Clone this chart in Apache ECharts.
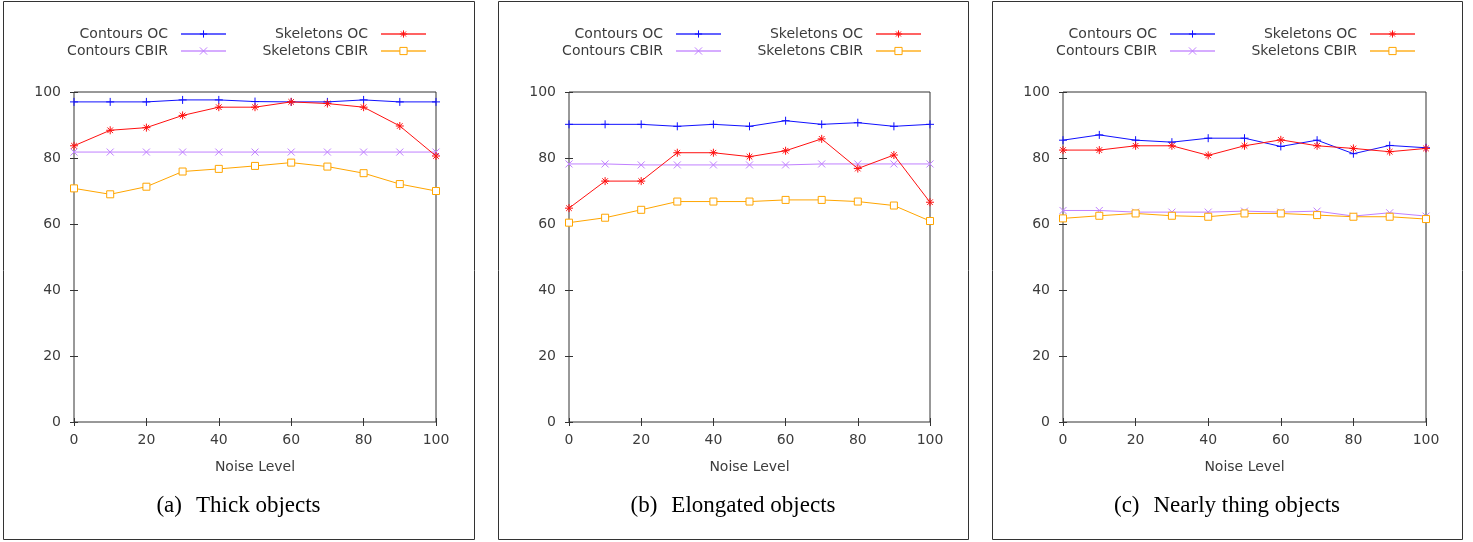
<!DOCTYPE html>
<html>
<head>
<meta charset="utf-8">
<script src="https://cdn.jsdelivr.net/npm/echarts@6/dist/echarts.min.js"></script>
<style>
html,body{margin:0;padding:0;background:#fff;}
#main{width:1473px;height:542px;}
</style>
</head>
<body>
<div id="main"></div>
<script>
// ---- data ----
const noiseLevels = [0, 10, 20, 30, 40, 50, 60, 70, 80, 90, 100];
const seriesNames = ['Contours OC', 'Contours CBIR', 'Skeletons OC', 'Skeletons CBIR'];
const xTicks = [0, 20, 40, 60, 80, 100];
const yTicks = [0, 20, 40, 60, 80, 100];
const captionTags = ['(a)', '(b)', '(c)'];
const captionTexts = ['Thick objects', 'Elongated objects', 'Nearly thing objects'];

// panel (a) Thick objects
const thickContoursOC    = [97.0, 97.0, 97.0, 97.6, 97.6, 97.1, 97.0, 97.0, 97.6, 97.0, 97.0];
const thickContoursCBIR  = [81.8, 81.8, 81.8, 81.8, 81.8, 81.8, 81.8, 81.8, 81.8, 81.8, 81.8];
const thickSkeletonsOC   = [83.7, 88.4, 89.2, 92.9, 95.4, 95.4, 97.0, 96.5, 95.4, 89.7, 80.6];
const thickSkeletonsCBIR = [70.8, 69.0, 71.3, 75.9, 76.7, 77.6, 78.6, 77.4, 75.4, 72.1, 70.0];

// panel (b) Elongated objects
const elongContoursOC    = [90.2, 90.2, 90.2, 89.6, 90.2, 89.6, 91.3, 90.2, 90.7, 89.6, 90.2];
const elongContoursCBIR  = [78.2, 78.2, 77.9, 77.9, 77.9, 77.9, 77.9, 78.2, 78.2, 78.2, 78.2];
const elongSkeletonsOC   = [64.8, 73.0, 73.0, 81.6, 81.6, 80.4, 82.2, 85.8, 76.8, 80.9, 66.6];
const elongSkeletonsCBIR = [60.4, 61.9, 64.3, 66.8, 66.8, 66.8, 67.3, 67.3, 66.8, 65.6, 60.9];

// panel (c) Nearly thing objects
const thinContoursOC    = [85.4, 87.0, 85.4, 84.8, 86.0, 86.0, 83.5, 85.4, 81.3, 83.8, 83.1];
const thinContoursCBIR  = [64.1, 64.1, 63.6, 63.6, 63.6, 63.9, 63.6, 63.9, 62.4, 63.4, 62.4];
const thinSkeletonsOC   = [82.4, 82.4, 83.7, 83.7, 80.8, 83.7, 85.5, 83.7, 82.9, 81.9, 82.9];
const thinSkeletonsCBIR = [61.7, 62.5, 63.2, 62.5, 62.2, 63.2, 63.2, 62.7, 62.2, 62.2, 61.5];

const panelData = [
  [thickContoursOC, thickContoursCBIR, thickSkeletonsOC, thickSkeletonsCBIR],
  [elongContoursOC, elongContoursCBIR, elongSkeletonsOC, elongSkeletonsCBIR],
  [thinContoursOC, thinContoursCBIR, thinSkeletonsOC, thinSkeletonsCBIR]
];

// ---- styles ----
const colors = ['#1010ff', '#c080ff', '#ff1010', '#ffa500'];
const symbols = [
  'path://M5,0L5,10M0,5L10,5',
  'path://M0,0L10,10M10,0L0,10',
  'path://M5,0L5,10M0,5L10,5M1.5,1.5L8.5,8.5M8.5,1.5L1.5,8.5',
  'path://M0,0L10,0L10,10L0,10Z'
];
const symbolSizes = [8, 7, 8, 7];
const symbolFills = ['#1010ff', '#c080ff', '#ff1010', '#ffffff'];
const textColor = '#3c3c3c';
const font = 'DejaVu Sans';

const W = 1473;
const gridLefts = [74, 569, 1063];
const gridWidths = [362, 361, 363];
const gridTop = 92, gridHeight = 330;
const boxes = [[3, 1, 471, 538], [498, 1, 470, 538], [992, 1, 470, 538]];

const grids = [], xAxes = [], yAxes = [], series = [], legends = [], titles = [], graphics = [];

for (let p = 0; p < 3; p++) {
  grids.push({left: gridLefts[p], top: gridTop, width: gridWidths[p], height: gridHeight,
    show: true, borderColor: '#333', borderWidth: 1, backgroundColor: 'transparent', containLabel: false});
  const axTick = {show: true, inside: true, length: 4, lineStyle: {color: '#333', width: 1}};
  xAxes.push({gridIndex: p, type: 'value', min: 0, max: 100, interval: 20, position: 'bottom',
    axisLine: {show: false}, axisTick: axTick, splitLine: {show: false},
    axisLabel: {color: textColor, fontFamily: font, fontSize: 14, margin: 11,
      formatter: v => xTicks.includes(v) ? String(v) : ''},
    name: 'Noise Level', nameLocation: 'middle', nameGap: 38,
    nameTextStyle: {color: textColor, fontFamily: font, fontSize: 14}});
  xAxes.push({gridIndex: p, type: 'value', min: 0, max: 100, interval: 20, position: 'top',
    axisLine: {show: false}, axisTick: axTick, splitLine: {show: false}, axisLabel: {show: false}});
  yAxes.push({gridIndex: p, type: 'value', min: 0, max: 100, interval: 20, position: 'left',
    axisLine: {show: false}, axisTick: axTick, splitLine: {show: false},
    axisLabel: {color: textColor, fontFamily: font, fontSize: 14, margin: 13,
      formatter: v => yTicks.includes(v) ? String(v) : ''}});
  yAxes.push({gridIndex: p, type: 'value', min: 0, max: 100, interval: 20, position: 'right',
    axisLine: {show: false}, axisTick: axTick, splitLine: {show: false}, axisLabel: {show: false}});

  for (let s = 0; s < 4; s++) {
    series.push({
      id: 'p' + p + 's' + s,
      name: seriesNames[s],
      type: 'line',
      xAxisIndex: p * 2,
      yAxisIndex: p * 2,
      data: noiseLevels.map((x, i) => [x, panelData[p][s][i]]),
      symbol: symbols[s],
      symbolSize: symbolSizes[s],
      showAllSymbol: true,
      color: colors[s],
      lineStyle: {color: colors[s], width: 1},
      itemStyle: {color: symbolFills[s], borderColor: colors[s], borderWidth: 1},
      emphasis: {disabled: true},
      animation: false,
      z: 3 + s
    });
    const col = s < 2 ? 0 : 1;
    const row = s % 2;
    const iconRight = gridLefts[p] + (col === 0 ? 153 : 353);
    legends.push({
      data: [seriesNames[s]],
      align: 'right',
      orient: 'horizontal',
      right: W - iconRight,
      top: (row === 0 ? 35 : 52) - 8,
      padding: 0,
      itemWidth: 45,
      itemHeight: 9,
      selectedMode: false,
      textStyle: {color: textColor, fontFamily: font, fontSize: 14, padding: [0, 8, 0, 0]},
      lineStyle: {width: 2, opacity: 0.65},
      itemStyle: {color: symbolFills[s], borderColor: colors[s], borderWidth: 1},
      formatter: n => n
    });
  }
  titles.push({
    text: '{t|' + captionTags[p] + '}' + captionTexts[p],
    left: boxes[p][0] + boxes[p][2] / 2,
    top: 494,
    textAlign: 'center',
    padding: 0,
    textStyle: {fontFamily: 'Liberation Serif', fontSize: 23, fontWeight: 'normal', color: '#000',
      rich: {t: {fontFamily: 'Liberation Serif', fontSize: 23, color: '#000', padding: [0, 14, 0, 0]}}}
  });
  graphics.push({
    type: 'rect',
    shape: {x: boxes[p][0] + 0.5, y: boxes[p][1] + 0.5, width: boxes[p][2], height: boxes[p][3]},
    style: {fill: 'none', stroke: '#333', lineWidth: 1},
    silent: true
  });
}

const chart = echarts.init(document.getElementById('main'), null, {renderer: 'canvas'});
chart.setOption({
  animation: false,
  backgroundColor: '#fff',
  title: titles,
  legend: legends,
  grid: grids,
  xAxis: xAxes,
  yAxis: yAxes,
  series: series,
  graphic: graphics
});
</script>
</body>
</html>
